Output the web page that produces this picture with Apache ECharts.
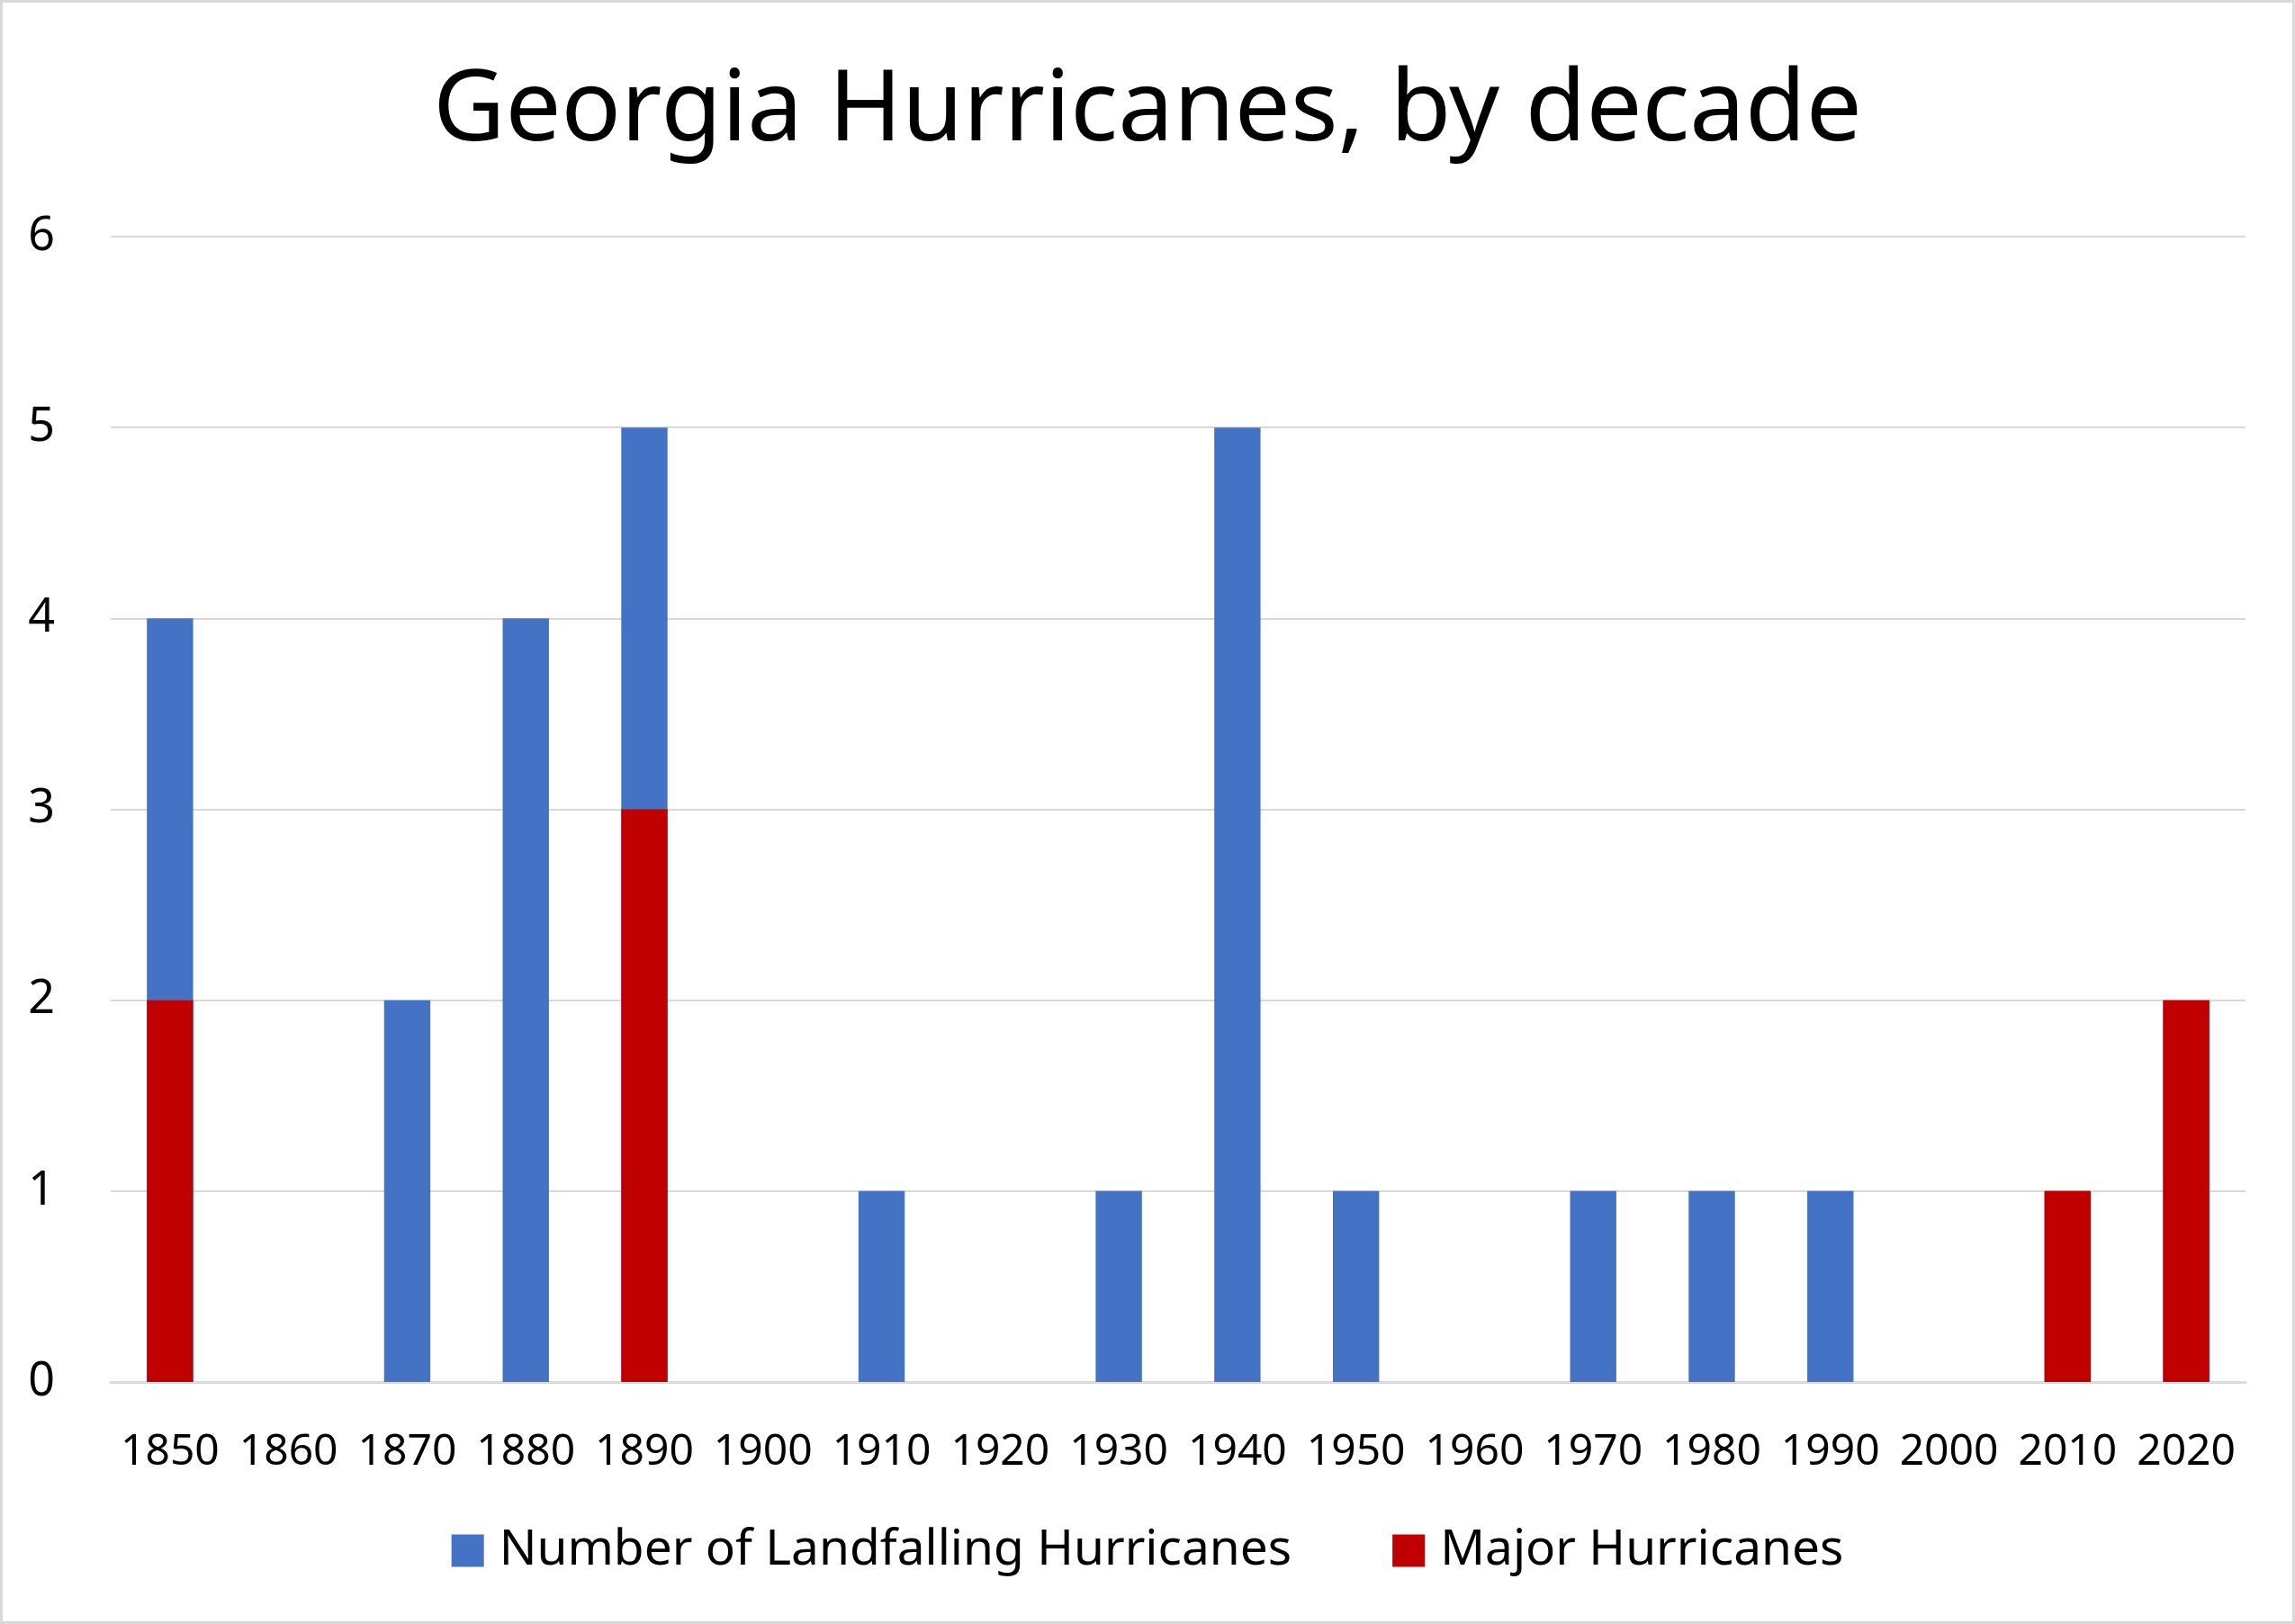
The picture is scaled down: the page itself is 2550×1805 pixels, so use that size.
<!DOCTYPE html>
<html>
<head>
<meta charset="utf-8">
<script src="https://cdn.jsdelivr.net/npm/echarts@6/dist/echarts.min.js"></script>
<style>
  html, body { margin: 0; padding: 0; background: #fff; }
  #chart { width: 2550px; height: 1805px; box-sizing: border-box; border: 3px solid #d9d9d9; }
</style>
</head>
<body>
<div id="chart"></div>
<script>
// Daten
const decades = ['1850', '1860', '1870', '1880', '1890', '1900', '1910', '1920', '1930',
  '1940', '1950', '1960', '1970', '1980', '1990', '2000', '2010', '2020'];
const landfalling = [4, 0, 2, 4, 5, 0, 1, 0, 1, 5, 1, 0, 1, 1, 1, 0, 1, 2];
const major = [2, 0, 0, 0, 3, 0, 0, 0, 0, 0, 0, 0, 0, 0, 0, 0, 1, 2];

const fontFamily = 'Noto Sans';
const chart = echarts.init(document.getElementById('chart'));

const option = {
  backgroundColor: '#fff',
  animation: false,
  textStyle: { fontFamily: fontFamily },
  title: {
    text: 'Georgia Hurricanes, by decade',
    left: 'center',
    top: 62,
    textStyle: { fontSize: 110, fontWeight: 'normal', color: '#000', fontFamily: fontFamily }
  },
  grid: { left: 120, right: 52, top: 260, bottom: 266 },
  legend: {
    bottom: 46,
    left: 'center',
    itemWidth: 36,
    itemHeight: 36,
    itemGap: 112,
    icon: 'rect',
    textStyle: { fontSize: 55, color: '#000', padding: [0, 0, 0, 12] },
    data: ['Number of Landfalling Hurricanes', 'Major Hurricanes']
  },
  xAxis: {
    type: 'category',
    data: decades,
    axisLine: { lineStyle: { color: '#d9d9d9', width: 3 } },
    axisTick: { show: false },
    axisLabel: { fontSize: 48, color: '#000', margin: 54, interval: 0 }
  },
  yAxis: {
    type: 'value',
    min: 0,
    max: 6,
    interval: 1,
    axisLine: { show: false },
    axisTick: { show: false },
    axisLabel: { fontSize: 52, color: '#000', margin: 62 },
    splitLine: { lineStyle: { color: '#d9d9d9', width: 2 } }
  },
  series: [
    {
      name: 'Number of Landfalling Hurricanes',
      type: 'bar',
      data: landfalling,
      barWidth: '39%',
      barGap: '-100%',
      itemStyle: { color: '#4472C4' }
    },
    {
      name: 'Major Hurricanes',
      type: 'bar',
      data: major,
      barWidth: '39%',
      itemStyle: { color: '#C00000' }
    }
  ]
};

chart.setOption(option);
</script>
</body>
</html>
